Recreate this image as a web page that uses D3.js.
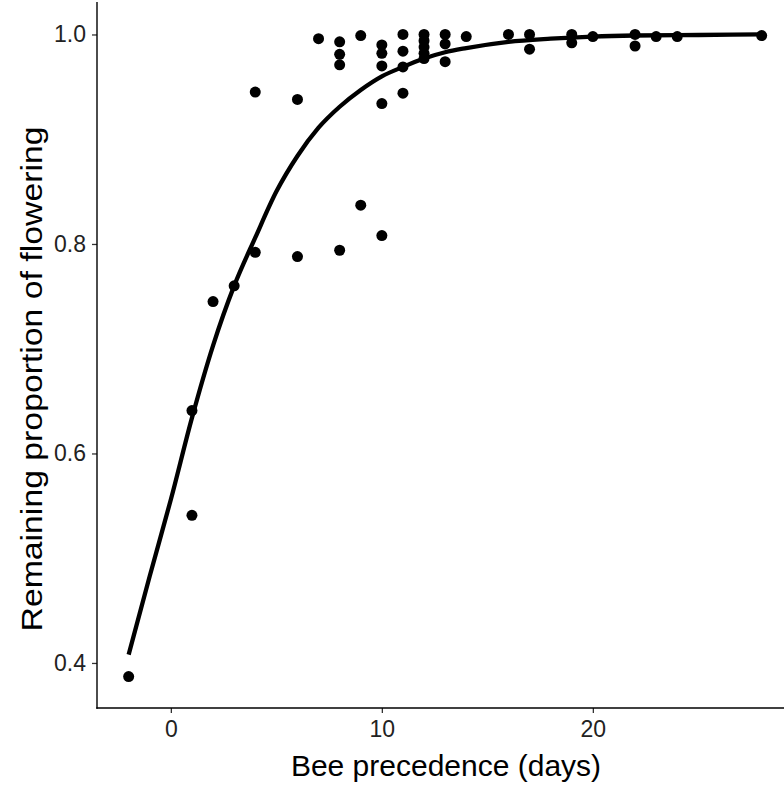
<!DOCTYPE html>
<html>
<head>
<meta charset="utf-8">
<script src="https://cdn.jsdelivr.net/npm/d3@7"></script>
<style>
  body { margin: 0; background: #fff; }
  svg { display: block; }
</style>
</head>
<body>
<div id="chart"></div>
<script>
// observed points (days of bee precedence, remaining proportion of flowering)
var days = [-2, 1, 1, 2, 3, 4, 4, 6, 6, 7,
            8, 8, 8, 8, 9, 9, 10, 10, 10, 10, 10,
            11, 11, 11, 11, 12, 12, 12, 12, 12, 13, 13, 13, 14,
            16, 17, 17, 19, 19, 20, 22, 22, 23, 24, 28];
var proportion = [0.387, 0.641, 0.541, 0.745, 0.760, 0.792, 0.945, 0.788, 0.938, 0.996,
                  0.794, 0.993, 0.981, 0.971, 0.999, 0.837, 0.808, 0.934, 0.970, 0.982, 0.990,
                  1.0, 0.984, 0.969, 0.944, 1.0, 0.994, 0.988, 0.982, 0.977, 1.0, 0.991, 0.974, 0.998,
                  1.0, 1.0, 0.986, 1.0, 0.992, 0.998, 1.0, 0.989, 0.998, 0.998, 0.999];

// fitted curve
var fitDays = [-2, -1, 0, 1, 2, 3, 4, 5, 6, 7, 8, 9, 10, 11, 12, 13, 14, 16, 18, 20, 22, 25, 28];
var fitProp = [0.408, 0.483, 0.556, 0.634, 0.703, 0.760, 0.806, 0.850, 0.884, 0.911, 0.931, 0.947,
               0.960, 0.969, 0.977, 0.983, 0.987, 0.993, 0.996, 0.998, 0.999, 0.9995, 1.0];

var xTicks = [0, 10, 20];
var yTicks = [0.4, 0.6, 0.8, 1.0];

var w = 784, h = 786;
var font = "Liberation Sans, Arial, sans-serif";

var xScale = d3.scaleLinear()
               .domain([-3.5, 29.5])
               .range([97, 97 + 33 * 21.1]);

var yScale = d3.scaleLinear()
               .domain([0.357, 1.031])
               .range([708, 2]);

var svg = d3.select("#chart")
            .append("svg")
            .attr("width", w)
            .attr("height", h);

// axes
var xAxis = d3.axisBottom(xScale).tickValues(xTicks).tickSize(5).tickPadding(6)
              .tickFormat(d3.format("d"));
var yAxis = d3.axisLeft(yScale).tickValues(yTicks).tickSize(5).tickPadding(6)
              .tickFormat(d3.format(".1f"));

var gx = svg.append("g")
            .attr("transform", "translate(0,708)")
            .call(xAxis);
var gy = svg.append("g")
            .attr("transform", "translate(97,0)")
            .call(yAxis);

[gx, gy].forEach(function(g) {
  g.select(".domain").remove();
  g.attr("font-size", 23).attr("font-family", font);
  g.selectAll(".tick line").attr("stroke", "#333").attr("stroke-width", 1.3);
  g.selectAll(".tick text")
   .attr("fill", "#222")
   .style("font-size", "23px");
});
gx.selectAll(".tick text").attr("dy", "0.8em");

svg.append("line")
   .attr("x1", 97).attr("x2", 97)
   .attr("y1", 2).attr("y2", 708.7)
   .attr("stroke", "#000").attr("stroke-width", 1.4);
svg.append("line")
   .attr("x1", 96.3).attr("x2", w)
   .attr("y1", 708).attr("y2", 708)
   .attr("stroke", "#000").attr("stroke-width", 1.4);

// points
svg.selectAll("circle")
   .data(days)
   .enter()
   .append("circle")
   .attr("cx", function(d) { return xScale(d); })
   .attr("cy", function(d, i) { return yScale(proportion[i]); })
   .attr("r", 5.5)
   .attr("fill", "#000");

// fitted line
var line = d3.line()
             .x(function(d) { return xScale(d); })
             .y(function(d, i) { return yScale(fitProp[i]); })
             .curve(d3.curveMonotoneX);

svg.append("path")
   .datum(fitDays)
   .attr("d", line)
   .attr("fill", "none")
   .attr("stroke", "#000")
   .attr("stroke-width", 4.3);

// axis titles
svg.append("text")
   .attr("x", 446)
   .attr("y", 776)
   .attr("text-anchor", "middle")
   .attr("font-family", font)
   .attr("font-size", 30)
   .text("Bee precedence (days)");

svg.append("text")
   .attr("transform", "translate(42,379) rotate(-90)")
   .attr("text-anchor", "middle")
   .attr("font-family", font)
   .attr("font-size", 30)
   .attr("textLength", 505)
   .attr("lengthAdjust", "spacingAndGlyphs")
   .text("Remaining proportion of flowering");
</script>
</body>
</html>
